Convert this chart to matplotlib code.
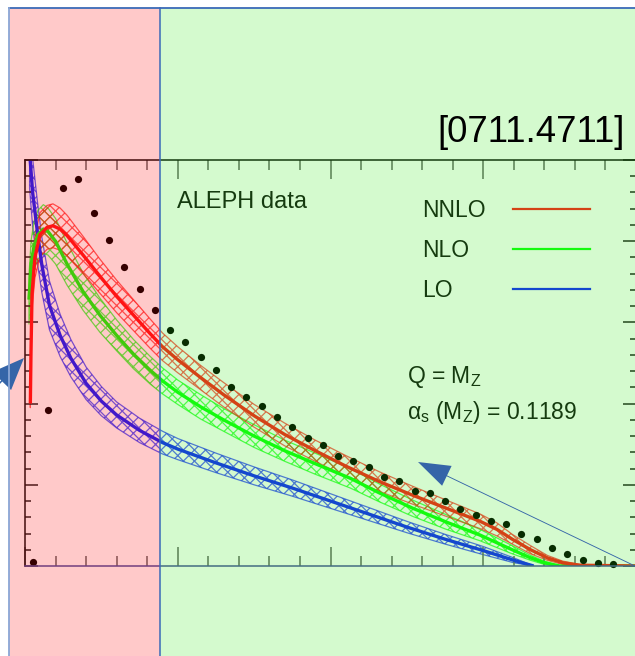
import matplotlib
matplotlib.use('Agg')
import matplotlib.pyplot as plt
from matplotlib.patches import Rectangle
from matplotlib.ticker import MultipleLocator

plt.rcParams['font.family'] = ['Liberation Sans', 'DejaVu Sans']
plt.rcParams['mathtext.fontset'] = 'custom'
plt.rcParams['mathtext.rm'] = 'Liberation Sans'
plt.rcParams['mathtext.it'] = 'Liberation Sans'
plt.rcParams['hatch.linewidth'] = 0.9

# ALEPH data points (bin centres)
data_x = [0.005, 0.015, 0.025, 0.035, 0.045, 0.055, 0.065, 0.075, 0.085, 0.095,
          0.105, 0.115, 0.125, 0.135, 0.145, 0.155, 0.165, 0.175, 0.185, 0.195,
          0.205, 0.215, 0.225, 0.235, 0.245, 0.255, 0.265, 0.275, 0.285, 0.295,
          0.305, 0.315, 0.325, 0.335, 0.345, 0.355, 0.365, 0.375, 0.385]
data_y = [0.05, 1.92, 4.66, 4.77, 4.35, 4.01, 3.68, 3.41, 3.15, 2.91,
          2.76, 2.57, 2.41, 2.20, 2.08, 1.97, 1.83, 1.71, 1.58, 1.49,
          1.35, 1.29, 1.22, 1.09, 1.05, 0.92, 0.90, 0.80, 0.70, 0.63,
          0.55, 0.52, 0.39, 0.33, 0.22, 0.15, 0.07, 0.04, 0.02]

# LO
lo_x = [0.003, 0.005, 0.008, 0.011, 0.016, 0.023, 0.03, 0.04, 0.05, 0.06, 0.075, 0.09,
        0.1, 0.125, 0.15, 0.175, 0.2, 0.225, 0.25, 0.275, 0.3, 0.32, 0.333]
lo_y = [5.1, 4.6, 4.13, 3.71, 3.21, 2.84, 2.56, 2.25, 2.03, 1.86, 1.67, 1.52,
        1.44, 1.27, 1.11, 0.96, 0.80, 0.64, 0.48, 0.33, 0.19, 0.07, 0.0]
lo_err = [0.45, 0.42, 0.38, 0.34, 0.3, 0.26, 0.23, 0.2, 0.18, 0.16, 0.15, 0.14,
          0.13, 0.12, 0.11, 0.1, 0.09, 0.08, 0.07, 0.06, 0.05, 0.03, 0.0]

# NLO
nlo_x = [0.0026, 0.004, 0.006, 0.0085, 0.012, 0.015, 0.02, 0.0275, 0.038, 0.049,
         0.06, 0.071, 0.082, 0.09, 0.1, 0.115, 0.13, 0.15, 0.17, 0.19,
         0.213, 0.232, 0.254, 0.276, 0.298, 0.319, 0.331, 0.34, 0.35, 0.4]
nlo_y = [3.28, 3.71, 3.95, 4.08, 4.15, 4.12, 4.0, 3.72, 3.38, 3.09,
         2.84, 2.61, 2.41, 2.28, 2.14, 1.96, 1.80, 1.60, 1.42, 1.26,
         1.08, 0.90, 0.71, 0.54, 0.38, 0.20, 0.10, 0.04, 0.0, 0.0]
nlo_err = [0.3, 0.3, 0.3, 0.3, 0.3, 0.29, 0.28, 0.26, 0.23, 0.21,
           0.19, 0.18, 0.17, 0.16, 0.15, 0.15, 0.14, 0.14, 0.13, 0.13,
           0.12, 0.11, 0.1, 0.09, 0.07, 0.05, 0.03, 0.02, 0.0, 0.0]

# NNLO
nnlo_x = [0.0035, 0.0039, 0.0046, 0.0065, 0.0098, 0.0144, 0.0183, 0.0229, 0.0275, 0.038,
          0.049, 0.06, 0.071, 0.082, 0.09, 0.1, 0.115, 0.13, 0.15, 0.17,
          0.19, 0.21, 0.232, 0.254, 0.276, 0.298, 0.309, 0.319, 0.331, 0.342,
          0.352, 0.363, 0.4]
nnlo_y = [2.0, 2.6, 3.35, 3.8, 4.08, 4.17, 4.19, 4.15, 4.07, 3.83,
          3.57, 3.32, 3.09, 2.86, 2.70, 2.54, 2.32, 2.11, 1.85, 1.62,
          1.42, 1.23, 1.04, 0.87, 0.71, 0.55, 0.45, 0.33, 0.2, 0.1,
          0.04, 0.01, 0.0]
nnlo_err = [0.05, 0.1, 0.18, 0.25, 0.27, 0.27, 0.27, 0.26, 0.25, 0.23,
            0.21, 0.2, 0.19, 0.18, 0.17, 0.16, 0.15, 0.15, 0.14, 0.14,
            0.13, 0.13, 0.12, 0.11, 0.1, 0.09, 0.08, 0.06, 0.05, 0.03,
            0.02, 0.01, 0.0]

c_nnlo = '#ff1a1a'
c_nlo = '#10ff10'
c_lo = '#1020ff'

fig = plt.figure(figsize=(6.35, 6.56), dpi=100)
fig.patch.set_facecolor('white')

# main plot
ax = fig.add_axes([25 / 635, 90 / 656, 611 / 635, 406 / 656])
ax.set_facecolor('white')
ax.set_xlim(0, 0.4)
ax.set_ylim(0, 5)


def band(x, y, e, col):
    lo = [a - b for a, b in zip(y, e)]
    hi = [a + b for a, b in zip(y, e)]
    ax.fill_between(x, lo, hi, facecolor='none', edgecolor=col, hatch='xxx',
                    linewidth=0.9, alpha=0.7)
    ax.plot(x, y, color=col, lw=2.4, solid_capstyle='butt', solid_joinstyle='round')


band(lo_x, lo_y, lo_err, c_lo)
band(nlo_x, nlo_y, nlo_err, c_nlo)
band(nnlo_x, nnlo_y, nnlo_err, c_nnlo)

ax.plot(data_x, data_y, 'o', color='black', ms=5.2, mec='none', clip_on=False)

ax.xaxis.set_major_locator(MultipleLocator(0.1))
ax.xaxis.set_minor_locator(MultipleLocator(0.02))
ax.yaxis.set_major_locator(MultipleLocator(1))
ax.yaxis.set_minor_locator(MultipleLocator(0.2))
ax.tick_params(axis='x', which='both', direction='in', top=True, bottom=True,
               labelbottom=False, color='#666666', width=1.1)
ax.tick_params(axis='x', which='major', length=14)
ax.tick_params(axis='x', which='minor', length=7)
ax.tick_params(axis='y', which='both', direction='in', left=True, right=True,
               labelleft=False, color='#222222', width=1.1)
ax.tick_params(axis='y', which='major', length=9.5)
ax.tick_params(axis='y', which='minor', length=4.5)
for s in ['left', 'top', 'right']:
    ax.spines[s].set_color('#111111')
    ax.spines[s].set_linewidth(1.1)
ax.spines['bottom'].set_color('#4b50a0')
ax.spines['bottom'].set_linewidth(1.1)

txt = '#111111'
ax.text(0.2488, 0.882, 'ALEPH data', transform=ax.transAxes, fontsize=17,
        color=txt, va='baseline')

# legend
leg = [('NNLO', c_nnlo, 0.8596), ('NLO', c_nlo, 0.7611), ('LO', c_lo, 0.6626)]
for lab, col, yb in leg:
    ax.text(0.6498, yb, lab, transform=ax.transAxes, fontsize=16.5, color=txt,
            va='baseline')
    ax.plot([0.7987, 0.9247], [yb + 0.02, yb + 0.02], transform=ax.transAxes,
            color=col, lw=1.6)

ax.text(0.6252, 0.4507, r'Q = M$_\mathrm{Z}$', transform=ax.transAxes,
        fontsize=16.5, color=txt, va='baseline')
ax.text(0.6252, 0.3621, r'$\alpha_\mathrm{s}$ (M$_\mathrm{Z}$) = 0.1189',
        transform=ax.transAxes, fontsize=16.5, color=txt, va='baseline')

# slide overlay (pixel coordinates)
ov = fig.add_axes([0, 0, 1, 1], zorder=10)
ov.set_xlim(0, 635)
ov.set_ylim(656, 0)
ov.axis('off')
ov.patch.set_alpha(0)

ov.add_patch(Rectangle((9, 8), 151, 660, facecolor=(1, 0, 0), alpha=0.21,
                       edgecolor='none'))
ov.add_patch(Rectangle((160, 8), 490, 660, facecolor=(40 / 255, 230 / 255, 10 / 255),
                       alpha=0.2, edgecolor='none'))
ov.plot([9, 640], [8, 8], color='#3a6ab8', lw=1.3)
ov.plot([9, 9], [8, 660], color='#8aa6d6', lw=1.3)
ov.plot([160, 160], [8, 660], color='#3a6ab8', lw=1.1)

ov.text(625, 142, '[0711.4711]', fontsize=26.3, color='black', ha='right', va='baseline')

ov.arrow(-36, 420, 60, -62, width=1.5, head_width=26, head_length=32,
         length_includes_head=True, color='#3565a8', lw=0)
ov.arrow(635, 566, -217, -104, width=0.9, head_width=22, head_length=32,
         length_includes_head=True, color='#3565a8', lw=0)

fig.savefig('out.png', dpi=100)
